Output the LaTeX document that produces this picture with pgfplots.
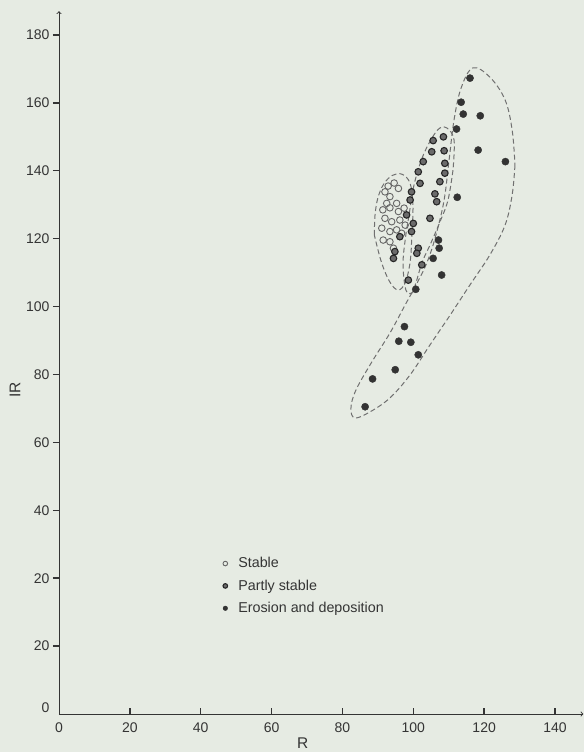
\documentclass[border=0pt]{standalone}
\usepackage{pgfplots}
\pgfplotsset{compat=1.18}
\usepackage{fontspec}
\setmainfont{Liberation Sans}
\setsansfont{Liberation Sans}
\definecolor{bg}{HTML}{E6EBE3}
\definecolor{ink}{HTML}{343434}
\definecolor{dsh}{HTML}{707070}
\begin{document}
\begin{tikzpicture}
\path[use as bounding box, fill=bg] (-59pt,-38pt) rectangle (525pt,714pt);
\begin{axis}[
  anchor=origin, at={(0pt,0pt)},
  x=3.543pt, y=3.395pt,
  xmin=0, xmax=148, ymin=0, ymax=207,
  axis lines=left,
  axis line style={ink, line width=0.9pt, ->},
  clip=false,
  y filter/.expression={y+20},
  xtick={20,40,...,140},
  extra x ticks={0}, extra x tick style={major tick length=0pt},
  ytick={20,40,...,200},
  yticklabels={20,20,40,60,80,100,120,140,160,180},
  extra y ticks={0}, extra y tick labels={0},
  extra y tick style={major tick length=0pt, yticklabel style={yshift=6pt}},
  tick align=inside,
  major tick length=6pt,
  tick style={ink, line width=1.4pt},
  ytick style={xshift=-6pt},
  yticklabel style={xshift=-6pt},
  xticklabel style={yshift=-5pt},
  ticklabel style={font=\fontsize{14}{15}\selectfont, text=ink},
  /pgf/number format/assume math mode=true,
  xlabel={R}, ylabel={IR},
  label style={font=\fontsize{15.5}{16}\selectfont, text=ink},
  xlabel style={at={(rel axis cs:0.465,0)}, anchor=center, yshift=-29pt},
  ylabel style={at={(rel axis cs:-0.0839,0.461)}, anchor=center},
  legend style={draw=none, fill=none, at={(rel axis cs:0.3067,0.2285)}, anchor=north west,
    font=\fontsize{14.3}{15}\selectfont, text=ink, row sep=6.5pt},
  legend cell align=left,
  legimg/.style={legend image code/.code={\path[draw=none,fill=none] (0pt,0pt) (11pt,0pt);\draw[##1, only marks, mark size=2.3pt] plot coordinates {(0pt,0pt)};}},
]
% outlines
\addplot[dsh, line width=1pt, dash pattern=on 5pt off 3pt, smooth, tension=0.6, forget plot] coordinates {
(128.7,141.7) (127.9,132.9) (125.9,124.0) (121.6,115.2) (116.0,106.4) (110.4,97.5) (104.7,88.7)
(99.1,79.9) (93.4,73.1) (87.8,69.0) (83.5,67.2) (82.4,70.1) (83.8,75.4) (88.3,83.7) (93.4,92.2)
(97.7,100.5) (100.8,106.4) (103.9,113.1) (106.4,121.1) (108.7,131.4) (110.1,143.2) (111.5,155.0)
(113.5,164.4) (116.8,170.3) (121.6,167.6) (125.9,160.9) (127.9,152.0) (128.7,141.7)};
\addplot[dsh, line width=1pt, dash pattern=on 5pt off 3pt, smooth, tension=0.6, forget plot] coordinates {
(111.2,140.2) (109.8,131.4) (107.5,124.9) (104.7,118.1) (102.5,113.1) (100.8,107.2) (99.6,104.0)
(97.9,104.9) (97.1,112.3) (97.7,119.6) (98.8,127.0) (100.2,135.8) (102.5,143.8) (105.3,149.7)
(107.5,152.6) (109.5,152.6) (111.5,149.1) (111.2,140.2)};
\addplot[dsh, line width=1pt, dash pattern=on 5pt off 3pt, smooth, tension=0.6, forget plot] coordinates {
(89.0,121.1) (89.2,127.0) (90.0,132.0) (91.6,136.0) (94.0,138.6) (96.8,139.0) (99.1,136.3)
(99.9,129.9) (99.6,121.1) (99.1,113.1) (97.7,107.0) (95.7,104.9) (93.4,107.2) (91.0,113.1) (89.0,121.1)};
% Stable
\addplot[only marks, mark=o, mark size=3.3pt, mark options={draw=black!60, line width=0.9pt, fill=bg}, legimg] coordinates {
(92.0,133.8) (93.4,132.4) (95.8,134.8) (95.3,130.4) (92.5,130.4) (93.4,129.1) (95.8,128.0)
(92.0,126.0) (93.9,125.0) (96.2,125.5) (91.1,123.1) (93.4,122.1) (95.3,122.6) (91.5,119.6)
(93.4,119.1) (96.7,121.6) (97.7,124.0) (94.4,117.2) (94.6,136.4) (97.4,129.0) (91.4,128.5) (92.9,135.5)};
\addlegendentry{Stable}
% Partly stable
\addplot[only marks, mark=*, mark size=3.3pt, mark options={draw=black!85, fill=black!58, line width=1.1pt}, legimg] coordinates {
(105.6,148.9) (108.5,150.0) (105.2,145.6) (108.7,145.9) (102.8,142.7) (101.4,139.7) (108.9,139.3)
(101.9,136.3) (107.5,136.8) (99.5,133.8) (106.1,133.2) (99.1,131.4) (106.6,130.9) (98.1,127.0)
(100.0,124.5) (99.5,122.1) (96.2,120.6) (94.8,116.2) (94.4,114.2) (101.4,117.2) (101.0,115.7)
(102.4,112.3) (98.6,107.8) (104.7,126.0) (108.9,142.2)};
\addlegendentry{Partly stable}
% Erosion and deposition
\addplot[only marks, mark=*, mark size=3.6pt, mark options={draw=black!80, fill=black!80}, legimg] coordinates {
(116.0,167.3) (113.5,160.2) (114.1,156.7) (118.9,156.2) (112.2,152.3) (118.3,146.1) (126.0,142.7)
(112.4,132.2) (107.1,119.6) (107.3,117.2) (105.6,114.2) (108.0,109.3) (100.7,105.1) (97.5,94.1)
(95.9,89.8) (99.3,89.5) (101.4,85.8) (94.9,81.4) (88.5,78.7) (86.4,70.5)};
\addlegendentry{Erosion and deposition}
\end{axis}
\end{tikzpicture}
\end{document}
